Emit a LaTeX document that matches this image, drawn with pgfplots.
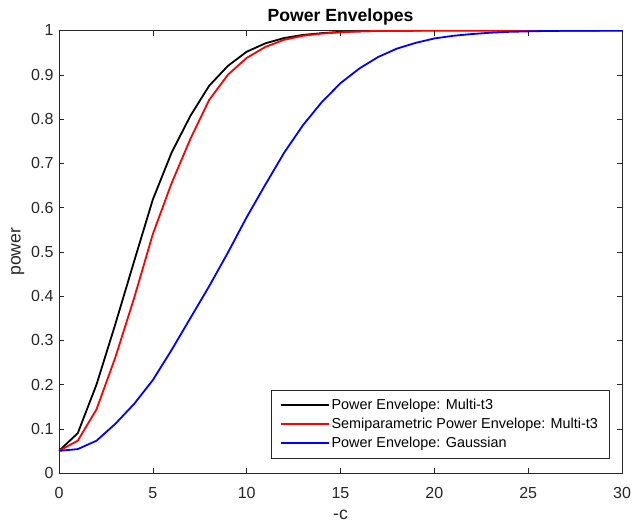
\documentclass[border=0pt]{standalone}
\usepackage{pgfplots}
\pgfplotsset{compat=1.18}
\usepackage{fontspec}
\setmainfont{Liberation Sans}
\definecolor{axgray}{RGB}{38,38,38}
\begin{document}
\begin{tikzpicture}
\path[use as bounding box] (-59bp,-50bp) rectangle (574bp,473bp);
\begin{axis}[
  at={(0,0)}, anchor=south west,
  scale only axis,
  width=563bp, height=442.5bp,
  xmin=0, xmax=30, ymin=0, ymax=1,
  xtick={0,5,...,30},
  ytick={0,0.1,...,1.01},
  yticklabels={0,0.1,0.2,0.3,0.4,0.5,0.6,0.7,0.8,0.9,1},
  tick align=inside,
  major tick length=5.5bp,
  axis line style={axgray},
  every tick/.style={axgray},
  tick label style={font=\fontsize{16bp}{18bp}\selectfont, text=axgray},
  /pgf/number format/assume math mode=true,
  xticklabel style={yshift=-11bp},
  yticklabel style={xshift=-2bp},
  title={\textbf{Power Envelopes}},
  title style={font=\fontsize{17.6bp}{20bp}\selectfont, yshift=-4bp},
  xlabel={-c},
  ylabel={power},
  label style={font=\fontsize{17.6bp}{20bp}\selectfont, text=axgray},
  xlabel style={inner sep=0pt, yshift=-8bp},
  ylabel style={yshift=0bp},
  legend style={
    at={(0.977,0.034)}, anchor=south east,
    font=\fontsize{14.4bp}{16bp}\selectfont,
    draw=axgray,
    cells={anchor=west},
    inner xsep=9bp, inner ysep=7bp,
    row sep=3bp,
  },
  legend cell align=left,
  legend image code/.code={\draw[#1, line width=1.8bp] (0bp,0bp) -- (48bp,0bp);},
]
\addplot[black, line width=1.8bp] coordinates {
(0,0.05) (1,0.09) (2,0.2) (3,0.336) (4,0.478) (5,0.618) (6,0.724) (7,0.807) (8,0.875) (9,0.92) (10,0.952)
(11,0.971) (12,0.983) (13,0.99) (14,0.994) (15,0.997) (16,0.998) (17,0.999) (18,0.9995) (19,0.9998) (20,0.9999)
(21,1) (22,1) (23,1) (24,1) (25,1) (26,1) (27,1) (28,1) (29,1) (30,1)};
\addlegendentry{Power Envelope: Multi-t3}
\addplot[red, line width=1.8bp] coordinates {
(0,0.05) (1,0.073) (2,0.144) (3,0.261) (4,0.395) (5,0.54) (6,0.655) (7,0.755) (8,0.843) (9,0.9) (10,0.938)
(11,0.963) (12,0.979) (13,0.988) (14,0.993) (15,0.996) (16,0.998) (17,0.999) (18,0.9994) (19,0.9997) (20,0.9999)
(21,1) (22,1) (23,1) (24,1) (25,1) (26,1) (27,1) (28,1) (29,1) (30,1)};
\addlegendentry{Semiparametric Power Envelope: Multi-t3}
\addplot[blue, line width=1.8bp] coordinates {
(0,0.05) (1,0.054) (2,0.073) (3,0.111) (4,0.156) (5,0.21) (6,0.278) (7,0.35) (8,0.422) (9,0.498) (10,0.578)
(11,0.652) (12,0.724) (13,0.786) (14,0.838) (15,0.881) (16,0.914) (17,0.94) (18,0.959) (19,0.972) (20,0.982)
(21,0.988) (22,0.992) (23,0.995) (24,0.997) (25,0.998) (26,0.999) (27,0.9993) (28,0.9996) (29,0.9998) (30,0.9999)};
\addlegendentry{Power Envelope: Gaussian}
\end{axis}
\end{tikzpicture}
\end{document}
